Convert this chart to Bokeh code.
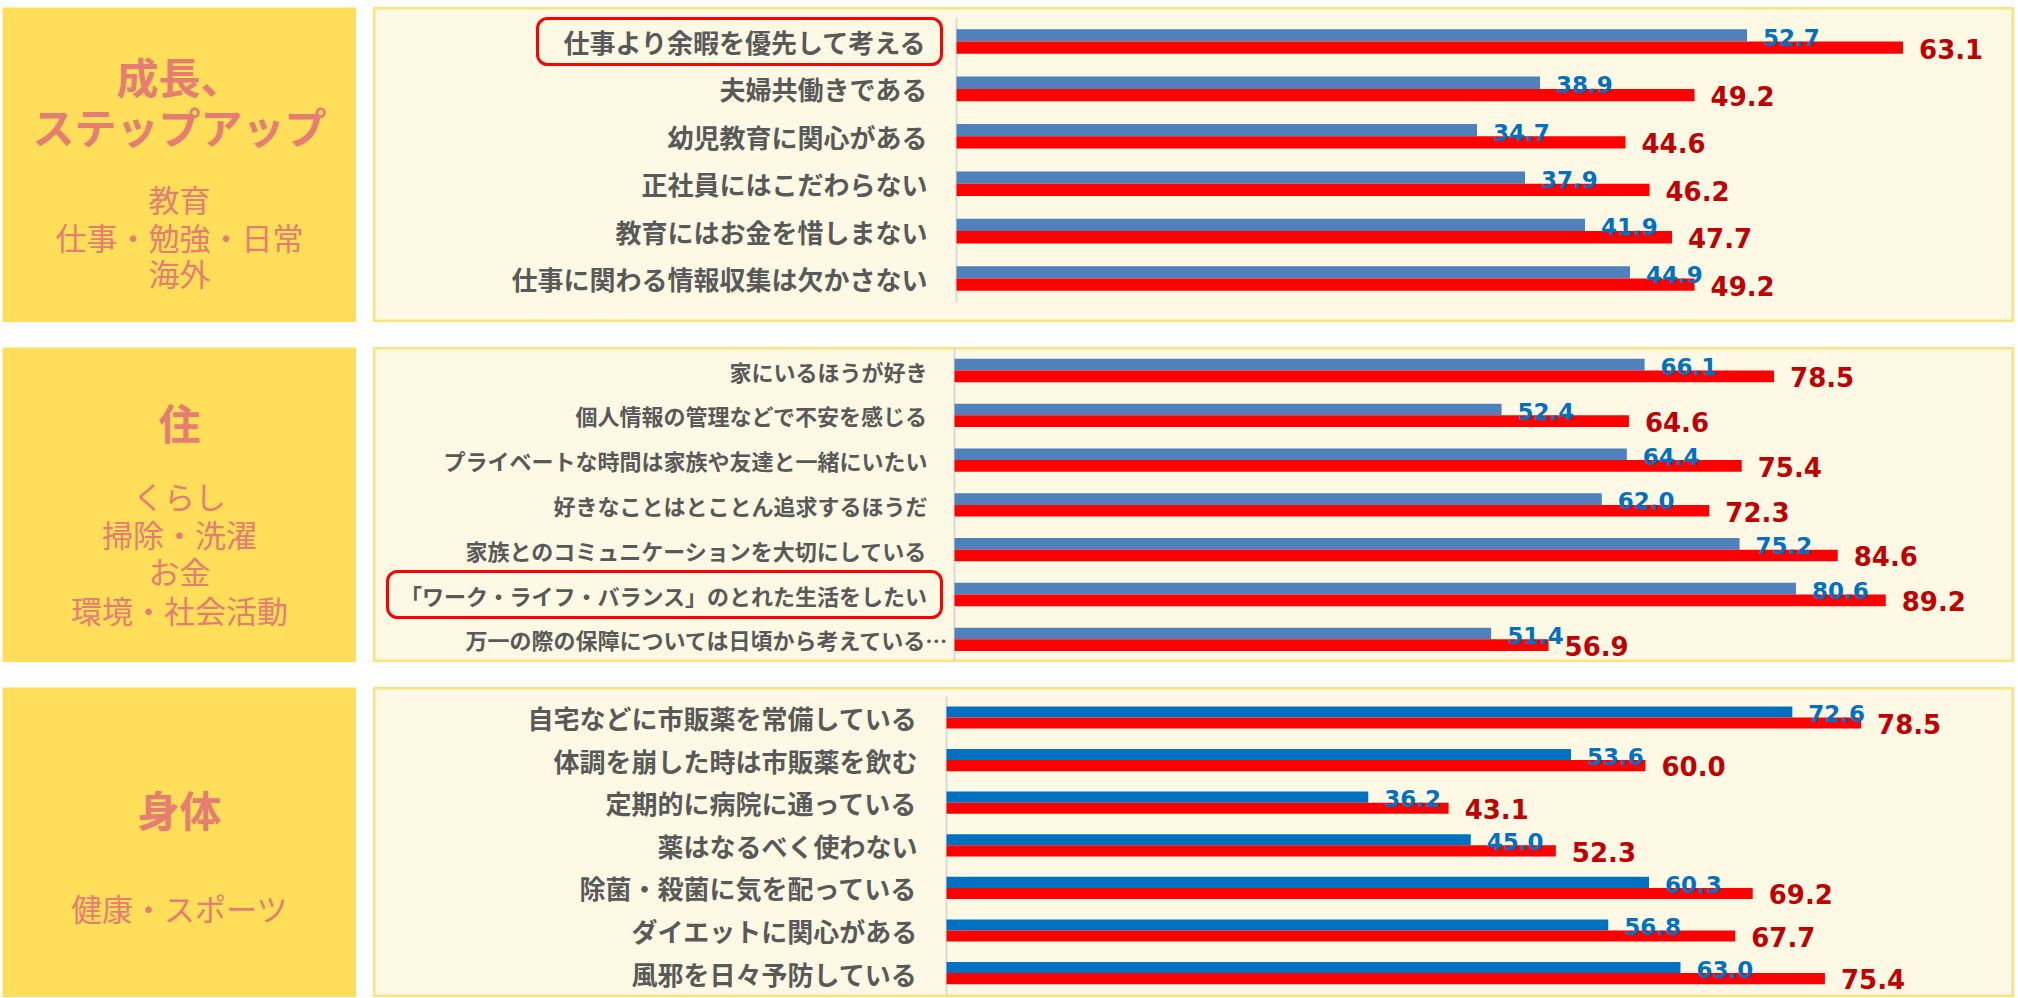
from bokeh.plotting import figure
from bokeh.models import Range1d, ColumnDataSource, Row, Column
from bokeh.transform import dodge
from bokeh.core.properties import value
from bokeh.embed import file_html
from bokeh.resources import INLINE

# ---------------- data ----------------
p1_labels = ["仕事より余暇を優先して考える", "夫婦共働きである", "幼児教育に関心がある",
             "正社員にはこだわらない", "教育にはお金を惜しまない", "仕事に関わる情報収集は欠かさない"]
p1_blue = [52.7, 38.9, 34.7, 37.9, 41.9, 44.9]
p1_red = [63.1, 49.2, 44.6, 46.2, 47.7, 49.2]

p2_labels = ["家にいるほうが好き", "個人情報の管理などで不安を感じる",
             "プライベートな時間は家族や友達と一緒にいたい", "好きなことはとことん追求するほうだ",
             "家族とのコミュニケーションを大切にしている",
             "「ワーク・ライフ・バランス」のとれた生活をしたい",
             "万一の際の保障については日頃から考えている…"]
p2_blue = [66.1, 52.4, 64.4, 62.0, 75.2, 80.6, 51.4]
p2_red = [78.5, 64.6, 75.4, 72.3, 84.6, 89.2, 56.9]

p3_labels = ["自宅などに市販薬を常備している", "体調を崩した時は市販薬を飲む", "定期的に病院に通っている",
             "薬はなるべく使わない", "除菌・殺菌に気を配っている", "ダイエットに関心がある",
             "風邪を日々予防している"]
p3_blue = [72.6, 53.6, 36.2, 45.0, 60.3, 56.8, 63.0]
p3_red = [78.5, 60.0, 43.1, 52.3, 69.2, 67.7, 75.4]

side1_titles = ["成長、", "ステップアップ"]
side1_subs = ["教育", "仕事・勉強・日常", "海外"]
side2_titles = ["住"]
side2_subs = ["くらし", "掃除・洗濯", "お金", "環境・社会活動"]
side3_titles = ["身体"]
side3_subs = ["健康・スポーツ"]

# ---------------- styles ----------------
JP = "Noto Sans CJK JP"
NUM = "DejaVu Sans"
SIDE_W = 354
CHART_W = 1641
GAP_X = 17
GAP_Y = 25
YELLOW = "#FFDE59"
CREAM = "#FEF9E5"
BORDER = "#FFE27A"
PINK = "#E57D72"
GRAY = "#595959"
RED = "#FF0000"
BLUE_LBL = "#0070C0"
RED_LBL = "#C00000"


def make_chart(labels, blue, red, blue_color, x_max, label_w, height, top_px, row_px,
               font_px, gap_px, highlight=None, hl_pad=20):
    n = len(labels)
    ppu = (CHART_W - label_w) / x_max
    p = figure(width=CHART_W, height=height,
               x_range=Range1d(-label_w / ppu, x_max),
               y_range=Range1d((height - top_px) / row_px, -top_px / row_px),
               output_backend="svg", toolbar_location=None,
               x_axis_location=None, y_axis_location=None,
               min_border=0, background_fill_color=CREAM, border_fill_color=CREAM,
               outline_line_color=BORDER, outline_line_width=4)
    p.grid.visible = False
    offs = [-gap_px + (font_px if t.endswith("…") else 0) for t in labels]
    src = ColumnDataSource(dict(idx=list(range(n)), label=labels, blue=blue, red=red,
                                btxt=[f"{v:.1f}" for v in blue],
                                rtxt=[f"{v:.1f}" for v in red], off=offs))
    p.segment(x0=0, y0=-0.5, x1=0, y1=n - 0.5, line_color="#D9D9D9", line_width=2)
    p.hbar(y=dodge("idx", -0.13), left=0, right="blue", height=0.26,
           fill_color=blue_color, line_color=None, source=src)
    p.hbar(y=dodge("idx", 0.13), left=0, right="red", height=0.26,
           fill_color=RED, line_color=None, source=src)
    p.text(x="blue", y=dodge("idx", -0.09), text="btxt", x_offset=16,
           text_align="left", text_baseline="middle", text_font=value(NUM),
           text_font_style="bold", text_font_size="23px", text_color=BLUE_LBL, source=src)
    p.text(x="red", y=dodge("idx", 0.15), text="rtxt", x_offset=16,
           text_align="left", text_baseline="middle", text_font=value(NUM),
           text_font_style="bold", text_font_size="26px", text_color=RED_LBL, source=src)
    p.text(x=0, y="idx", text="label", x_offset="off", text_align="right",
           text_baseline="middle", text_font=value(JP), text_font_style="bold",
           text_font_size=f"{font_px}px", text_color=GRAY, source=src)
    if highlight is not None:
        i = highlight
        w = len(labels[i]) * font_px
        left_px = -(gap_px + w + hl_pad)
        right_px = -(gap_px - 14)
        p.quad(left=left_px / ppu, right=right_px / ppu, top=i - 23 / row_px,
               bottom=i + 23 / row_px, fill_color=None, line_color=RED,
               line_width=3, border_radius=10)
    return p


def make_side(titles, subs, height, title_y, sub_y):
    s = figure(width=SIDE_W, height=height, x_range=Range1d(0, SIDE_W),
               y_range=Range1d(height, 0), output_backend="svg", toolbar_location=None,
               x_axis_location=None, y_axis_location=None, min_border=0,
               background_fill_color=YELLOW, border_fill_color=YELLOW,
               outline_line_color=None)
    s.grid.visible = False
    s.text(x=[SIDE_W / 2] * len(titles), y=title_y, text=titles, text_align="center",
           text_baseline="middle", text_font=value(JP), text_font_style="bold",
           text_font_size="42px", text_color=PINK)
    s.text(x=[SIDE_W / 2] * len(subs), y=sub_y, text=subs, text_align="center",
           text_baseline="middle", text_font=value(JP), text_font_style="normal",
           text_font_size="31px", text_color=PINK)
    return s


s1 = make_side(side1_titles, side1_subs, 315, [68, 118], [191, 229, 265])
c1 = make_chart(p1_labels, p1_blue, p1_red, "#4F81BD", 70.53, 583, 315, 34, 47.4, 26, 29,
                highlight=0, hl_pad=26)

s2 = make_side(side2_titles, side2_subs, 315, [74], [148, 186, 223, 262])
c2 = make_chart(p2_labels, p2_blue, p2_red, "#4F81BD", 101.53, 581, 315, 23, 44.8, 22, 27,
                highlight=5, hl_pad=12)

s3 = make_side(side3_titles, side3_subs, 310, [121], [220])
c3 = make_chart(p3_labels, p3_blue, p3_red, "#0070C0", 91.67, 573, 310, 30, 42.6, 26, 29)

layout = Column(children=[Row(children=[s1, c1], spacing=GAP_X),
                          Row(children=[s2, c2], spacing=GAP_X),
                          Row(children=[s3, c3], spacing=GAP_X)],
                spacing=GAP_Y, margin=(7, 0, 0, 2))

open("out.html", "w").write(file_html(layout, INLINE))
